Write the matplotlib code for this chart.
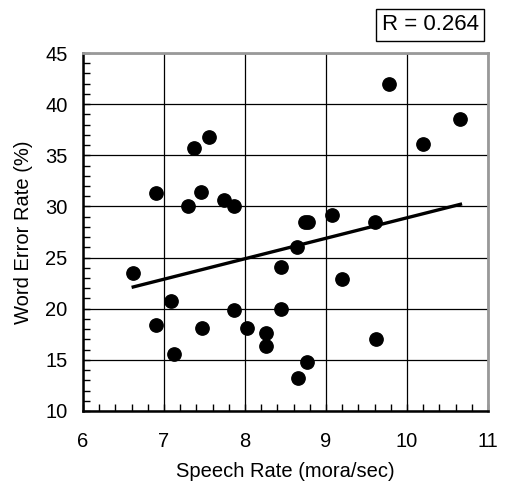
import numpy as np
import matplotlib
matplotlib.use('Agg')
import matplotlib.pyplot as plt
from matplotlib.ticker import MultipleLocator

plt.rcParams['font.family'] = ['Liberation Sans', 'DejaVu Sans']

# speech rate (mora/sec) and word error rate (%) per speaker
speech_rate = [6.62, 6.90, 6.90, 7.09, 7.12, 7.30, 7.37, 7.46, 7.47, 7.56,
               7.74, 7.86, 7.86, 8.03, 8.26, 8.26, 8.45, 8.45, 8.64, 8.65,
               8.74, 8.78, 8.77, 9.07, 9.20, 9.61, 9.62, 9.78, 10.20, 10.66]
wer = [23.5, 31.3, 18.4, 20.8, 15.6, 30.0, 35.7, 31.4, 18.1, 36.8,
       30.6, 30.0, 19.85, 18.1, 17.66, 16.4, 24.05, 19.98, 26.07, 13.2,
       28.5, 28.5, 14.8, 29.16, 22.9, 28.5, 17.0, 42.0, 36.1, 38.5]
r_label = 'R = 0.264'

x = np.array(speech_rate)
y = np.array(wer)
slope, intercept = np.polyfit(x, y, 1)
fit_x = np.array([x.min(), x.max()])

fig = plt.figure(figsize=(5.07, 4.84), dpi=100)
ax = fig.add_axes([83 / 507, 1 - 411 / 484, 405 / 507, 358 / 484])

ax.grid(True, color='black', linewidth=0.9)
ax.set_axisbelow(True)
ax.scatter(x, y, s=92, color='black', zorder=3)
ax.plot(fit_x, slope * fit_x + intercept, color='black', linewidth=2.4, zorder=3)

ax.set_xlim(6, 11)
ax.set_ylim(10, 45)
ax.xaxis.set_major_locator(MultipleLocator(1))
ax.xaxis.set_minor_locator(MultipleLocator(0.2))
ax.yaxis.set_major_locator(MultipleLocator(5))
ax.yaxis.set_minor_locator(MultipleLocator(1))
ax.tick_params(which='both', direction='in', length=5, width=1, labelsize=14.5,
               top=False, right=False)
ax.tick_params(axis='y', which='major', pad=11)
ax.tick_params(axis='x', which='major', pad=15)

for side in ['left', 'bottom']:
    ax.spines[side].set_linewidth(1.8)
    ax.spines[side].set_color('black')
for side in ['top', 'right']:
    ax.spines[side].set_linewidth(2)
    ax.spines[side].set_color('#999999')

ax.set_xlabel('Speech Rate (mora/sec)', fontsize=14.5, labelpad=8)
ax.set_ylabel('Word Error Rate (%)', fontsize=14.5, labelpad=9)

fig.text(430 / 507, 1 - 25 / 484, r_label, fontsize=16, ha='center', va='center',
         bbox=dict(boxstyle='square,pad=0.25', facecolor='white', edgecolor='black', linewidth=1))

fig.savefig('out.png', dpi=100)
